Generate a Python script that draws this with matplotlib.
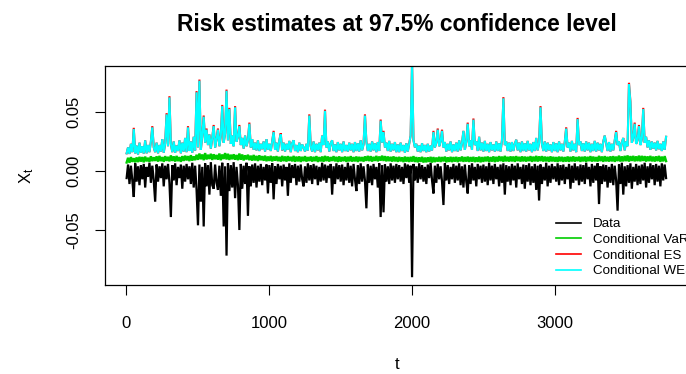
"""Risk estimates (VaR / ES / WES) at 97.5% over the return series.

Values are read off the reference chart, one sample every 10 time steps,
stored in units of 1e-4.
"""
import matplotlib
matplotlib.use("Agg")
import matplotlib.pyplot as plt
import numpy as np
from matplotlib.ticker import FormatStrFormatter, MultipleLocator

T_START = 1
T_STEP = 10
UNIT = 1e-4

data_vals = [
    -60, 55, -110, 45, -80, -220, 65, -90, 40, -120,
    50, -70, 60, -140, 35, -50, 70, -100, 45, -80,
    -260, 55, -90, 40, -60, 65, -130, 45, -70, 60,
    -100, -390, 50, -80, 65, -120, 35, -60, 55, -150,
    45, -90, 60, -70, 40, -110, 70, -140, 45, -160,
    -460, 55, -260, 35, -470, 65, -130, 50, -200, 75,
    -120, -150, 55, -100, -160, 45, -210, 70, -470, 40,
    -717, 65, -170, 50, -140, 75, -230, 35, -120, -500,
    60, -150, 45, -110, 70, -380, 40, -130, 55, -100,
    65, -140, 45, -90, 60, -120, 35, -80, 55, -190,
    50, -100, 65, -240, 40, -110, 60, -70, 45, -130,
    55, -80, 35, -210, 65, -100, 50, -60, 60, -120,
    45, -90, 55, -70, -130, 40, -100, 65, -80, 50,
    -110, 60, -70, 45, -120, 35, -90, 70, -80, 55,
    -100, 45, -60, 60, -200, 40, -110, 65, -70, 50,
    -90, 55, -120, 35, -80, 70, -100, 45, -130, 60,
    -70, -170, 50, -110, 65, -90, 40, -80, -316, 55,
    -100, 45, -120, 60, -70, 35, -140, 65, -390, 50,
    -350, 55, -90, 40, -110, 65, -80, 45, -100, 60,
    -70, 50, -90, 35, -110, 65, -60, 55, -100, 45,
    -900, 60, -80, 40, -100, 65, -70, 50, -90, 35,
    -110, 55, -60, 70, -80, -190, 45, -100, 60, -70,
    40, -90, -288, 65, -80, 50, -110, 35, -70, 60,
    -100, 45, -80, 65, -120, 40, -140, 55, -90, -190,
    50, -110, 65, -80, 35, -130, 60, -70, 45, -100,
    55, -90, 40, -120, 70, -80, 45, -110, 60, -70,
    35, -130, 55, -100, 65, -200, 50, -90, 40, -120,
    60, -80, 45, -140, 65, -70, 35, -110, 55, -150,
    50, -90, 65, -120, 40, -100, 60, -160, 45, -250,
    55, -110, 35, -80, 70, -130, 45, -100, 60, -70,
    40, -90, 65, -120, 50, -80, 55, -110, 35, -70,
    60, -150, 45, -100, 65, -80, 40, -120, 55, -90,
    50, -110, 70, -70, 35, -130, 60, -100, 45, -80,
    65, -280, 40, -110, 55, -90, 50, -140, 35, -100,
    60, -120, 45, -80, -336, 55, -110, 70, -200, 40,
    -130, 50, -100, 65, -150, 35, -90, 60, -120, 45,
    -110, 55, -80, 70, -140, 40, -100, 65, -70, 50,
    -120, 60, -90, 45, -130, 65, -80, 55, -60,
]

var_vals = [
    72, 112, 70, 118, 78, 108, 74, 115, 76, 120,
    80, 118, 74, 122, 82, 112, 78, 125, 84, 116,
    86, 124, 80, 128, 84, 118, 78, 126, 86, 120,
    82, 132, 86, 124, 80, 128, 84, 118, 78, 126,
    86, 130, 90, 126, 84, 134, 88, 124, 92, 138,
    95, 148, 100, 140, 92, 152, 98, 138, 102, 146,
    94, 142, 100, 136, 96, 148, 92, 140, 102, 152,
    98, 146, 94, 138, 100, 142, 96, 136, 92, 148,
    96, 140, 90, 133, 98, 138, 92, 130, 88, 136,
    90, 128, 85, 133, 92, 126, 87, 130, 83, 123,
    86, 128, 82, 123, 88, 126, 84, 120, 80, 128,
    84, 123, 80, 126, 86, 120, 82, 128, 78, 122,
    82, 124, 77, 120, 84, 126, 80, 118, 85, 123,
    80, 120, 84, 126, 77, 118, 82, 123, 79, 128,
    84, 123, 80, 118, 86, 126, 82, 120, 77, 124,
    80, 118, 84, 123, 78, 120, 82, 126, 80, 118,
    82, 123, 77, 120, 84, 118, 80, 124, 86, 128,
    84, 126, 80, 120, 86, 128, 82, 123, 88, 130,
    86, 126, 82, 123, 84, 120, 80, 124, 82, 118,
    78, 120, 82, 116, 76, 122, 80, 118, 77, 120,
    80, 126, 77, 118, 74, 116, 78, 120, 72, 114,
    74, 116, 78, 120, 72, 118, 76, 114, 80, 120,
    77, 118, 82, 122, 74, 116, 78, 120, 76, 118,
    80, 120, 76, 116, 82, 123, 78, 118, 80, 122,
    77, 118, 80, 120, 76, 116, 78, 122, 74, 118,
    78, 120, 82, 123, 77, 118, 80, 124, 76, 120,
    80, 126, 84, 122, 78, 128, 82, 120, 80, 124,
    82, 123, 78, 126, 84, 120, 80, 124, 82, 122,
    80, 120, 84, 126, 78, 122, 82, 128, 80, 124,
    84, 126, 80, 122, 82, 120, 78, 124, 82, 120,
    80, 118, 77, 122, 82, 120, 78, 118, 80, 123,
    78, 120, 82, 124, 80, 118, 84, 122, 78, 120,
    82, 123, 78, 120, 84, 126, 80, 122, 82, 118,
    80, 128, 84, 123, 78, 126, 82, 120, 80, 124,
    82, 126, 78, 122, 84, 130, 80, 124, 82, 128,
    84, 132, 80, 126, 86, 128, 82, 124, 84, 130,
    82, 128, 86, 126, 80, 124, 84, 128, 82, 122,
    80, 124, 84, 128, 78, 122, 82, 126, 84,
]

es_vals = [
    150, 200, 145, 230, 160, 366, 150, 215, 140, 240,
    155, 210, 148, 260, 150, 220, 160, 250, 380, 200,
    160, 240, 150, 220, 165, 270, 155, 235, 490, 210,
    634, 230, 160, 250, 155, 215, 170, 260, 150, 240,
    165, 280, 160, 380, 170, 250, 155, 290, 175, 677,
    200, 775, 180, 300, 470, 240, 360, 220, 310, 190,
    280, 390, 200, 270, 360, 210, 300, 560, 240, 320,
    690, 260, 535, 230, 300, 210, 550, 250, 290, 390,
    220, 280, 190, 300, 210, 260, 410, 200, 270, 180,
    240, 175, 260, 170, 230, 185, 250, 165, 270, 180,
    230, 170, 250, 340, 180, 240, 165, 260, 320, 175,
    240, 165, 230, 180, 255, 160, 235, 260, 170, 220,
    160, 240, 170, 225, 200, 165, 230, 175, 480, 210,
    165, 250, 160, 230, 175, 240, 160, 300, 220, 520,
    200, 250, 165, 235, 260, 170, 225, 160, 245, 175,
    230, 160, 250, 170, 220, 165, 240, 175, 230, 160,
    245, 170, 235, 165, 260, 175, 225, 480, 250, 170,
    230, 165, 250, 175, 235, 160, 245, 170, 436, 240,
    340, 200, 240, 170, 255, 165, 230, 175, 245, 160,
    225, 160, 240, 170, 220, 155, 235, 165, 230, 300,
    920, 260, 200, 230, 165, 215, 160, 235, 170, 220,
    160, 230, 165, 215, 175, 340, 200, 240, 360, 210,
    250, 350, 200, 245, 165, 230, 175, 250, 160, 225,
    170, 240, 165, 260, 175, 235, 340, 180, 250, 410,
    210, 260, 180, 445, 220, 250, 170, 290, 175, 240,
    165, 255, 170, 230, 160, 245, 175, 225, 165, 250,
    170, 235, 165, 260, 626, 220, 250, 170, 240, 165,
    245, 170, 230, 265, 175, 240, 160, 250, 170, 235,
    165, 255, 175, 230, 160, 245, 170, 280, 175, 240,
    550, 230, 170, 250, 165, 240, 175, 225, 160, 245,
    170, 235, 160, 250, 175, 230, 165, 245, 370, 200,
    240, 165, 255, 175, 230, 160, 450, 220, 250, 170,
    235, 165, 250, 175, 240, 160, 230, 170, 255, 165,
    240, 175, 230, 160, 250, 300, 235, 170, 245, 165,
    230, 175, 260, 340, 220, 250, 170, 240, 280, 175,
    250, 210, 747, 590, 240, 280, 410, 230, 260, 390,
    220, 270, 535, 240, 290, 200, 260, 180, 250, 190,
    240, 175, 255, 185, 230, 170, 250, 180, 290,
]

wes_vals = [
    150, 200, 145, 230, 160, 356, 150, 215, 140, 240,
    155, 210, 148, 260, 150, 220, 160, 250, 370, 200,
    160, 240, 150, 220, 165, 270, 155, 235, 480, 210,
    624, 230, 160, 250, 155, 215, 170, 260, 150, 240,
    165, 280, 160, 370, 170, 250, 155, 290, 175, 667,
    200, 765, 180, 300, 460, 240, 350, 220, 310, 190,
    280, 380, 200, 270, 350, 210, 300, 550, 240, 320,
    680, 260, 525, 230, 300, 210, 540, 250, 290, 380,
    220, 280, 190, 300, 210, 260, 400, 200, 270, 180,
    240, 175, 260, 170, 230, 185, 250, 165, 270, 180,
    230, 170, 250, 330, 180, 240, 165, 260, 310, 175,
    240, 165, 230, 180, 255, 160, 235, 260, 170, 220,
    160, 240, 170, 225, 200, 165, 230, 175, 470, 210,
    165, 250, 160, 230, 175, 240, 160, 300, 220, 510,
    200, 250, 165, 235, 260, 170, 225, 160, 245, 175,
    230, 160, 250, 170, 220, 165, 240, 175, 230, 160,
    245, 170, 235, 165, 260, 175, 225, 470, 250, 170,
    230, 165, 250, 175, 235, 160, 245, 170, 426, 240,
    330, 200, 240, 170, 255, 165, 230, 175, 245, 160,
    225, 160, 240, 170, 220, 155, 235, 165, 230, 300,
    920, 260, 200, 230, 165, 215, 160, 235, 170, 220,
    160, 230, 165, 215, 175, 330, 200, 240, 350, 210,
    250, 340, 200, 245, 165, 230, 175, 250, 160, 225,
    170, 240, 165, 260, 175, 235, 340, 180, 250, 400,
    210, 260, 180, 435, 220, 250, 170, 290, 175, 240,
    165, 255, 170, 230, 160, 245, 175, 225, 165, 250,
    170, 235, 165, 260, 616, 220, 250, 170, 240, 165,
    245, 170, 230, 265, 175, 240, 160, 250, 170, 235,
    165, 255, 175, 230, 160, 245, 170, 280, 175, 240,
    540, 230, 170, 250, 165, 240, 175, 225, 160, 245,
    170, 235, 160, 250, 175, 230, 165, 245, 360, 200,
    240, 165, 255, 175, 230, 160, 440, 220, 250, 170,
    235, 165, 250, 175, 240, 160, 230, 170, 255, 165,
    240, 175, 230, 160, 250, 300, 235, 170, 245, 165,
    230, 175, 260, 330, 220, 250, 170, 240, 280, 175,
    250, 210, 737, 580, 240, 280, 400, 230, 260, 380,
    220, 270, 525, 240, 290, 200, 260, 180, 250, 190,
    240, 175, 255, 185, 230, 170, 250, 180, 290,
]

series_labels = ["Data", "Conditional VaR", "Conditional ES", "Conditional WES"]
series_colors = ["black", "#00CD00", "red", "cyan"]
series_widths = [1.6, 1.7, 1.5, 1.5]


def main() -> None:
    plt.rcParams["font.family"] = ["Liberation Sans", "DejaVu Sans"]
    plt.rcParams["mathtext.fontset"] = "custom"
    plt.rcParams["mathtext.rm"] = "Liberation Sans"

    n = len(data_vals)
    t = T_START + T_STEP * np.arange(n)
    series = [data_vals, var_vals, es_vals, wes_vals]

    fig = plt.figure(figsize=(6.86, 3.74), dpi=100)
    ax = fig.add_axes([105 / 686, 1 - 285 / 374, 584 / 686, 219 / 374])

    # one sample is ~1.4 px wide, so a wider stroke closes the dense band
    for vals, lab, col, lw in zip(series, series_labels, series_colors, series_widths):
        ax.plot(t, np.asarray(vals) * UNIT, color=col, lw=lw, label=lab,
                solid_joinstyle="miter")

    t_end = t[-1] + 9
    pad = 0.04 * (t_end - 1)
    ax.set_xlim(1 - pad, t_end + pad)
    ax.set_ylim(-0.0966, 0.089)

    ax.xaxis.set_major_locator(MultipleLocator(1000))
    ax.yaxis.set_major_locator(MultipleLocator(0.05))
    ax.yaxis.set_major_formatter(FormatStrFormatter("%.2f"))
    ax.tick_params(direction="out", length=7, width=0.8, labelsize=12)
    ax.tick_params(axis="x", pad=15)
    ax.tick_params(axis="y", pad=10)
    for lab in ax.get_yticklabels():
        lab.set_rotation(90)
        lab.set_va("center")
    for sp in ax.spines.values():
        sp.set_linewidth(0.9)

    ax.set_xlabel("t", fontsize=12, labelpad=19)
    ax.set_ylabel(r"$\mathregular{X_t}$", fontsize=12, labelpad=22)
    ax.set_title("Risk estimates at 97.5% confidence level",
                 fontsize=16.4, fontweight="bold", pad=25)

    leg = ax.legend(loc="upper left", bbox_to_anchor=(556 / 686, 1 - 218 / 374),
                    bbox_transform=fig.transFigure, frameon=False, fontsize=9.6,
                    handlelength=1.9, handletextpad=0.9, labelspacing=0.25,
                    borderpad=0, borderaxespad=0)
    for line in leg.get_lines():
        line.set_linewidth(1.2)

    fig.savefig("out.png", dpi=100)
    plt.close(fig)


if __name__ == "__main__":
    main()
